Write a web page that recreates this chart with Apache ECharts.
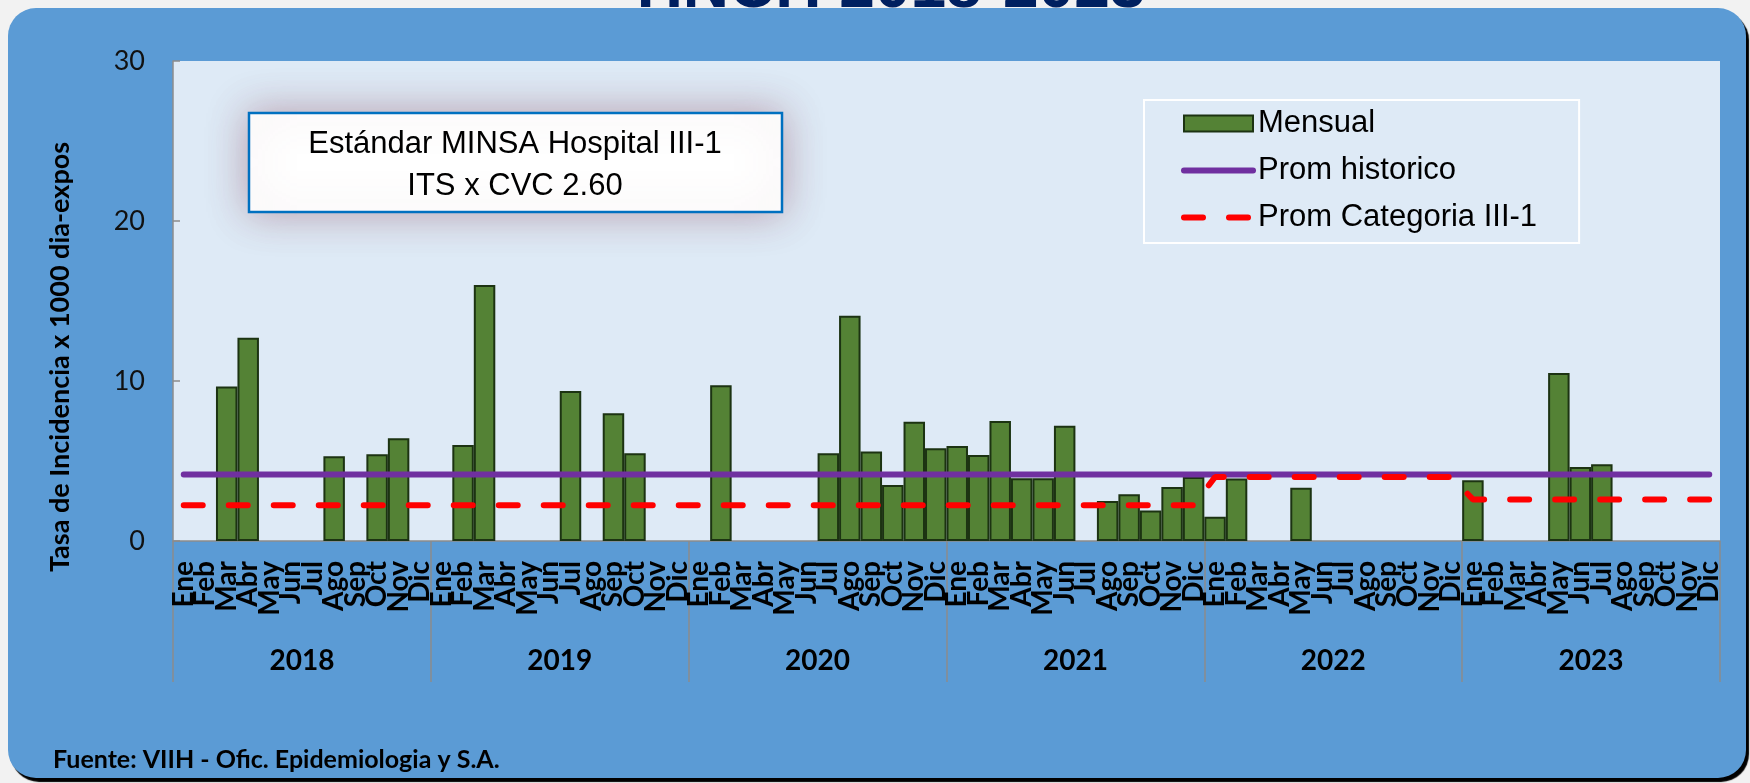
<!DOCTYPE html>
<html>
<head>
<meta charset="utf-8">
<script src="https://cdn.jsdelivr.net/npm/echarts@6/dist/echarts.min.js"></script>
<style>
  html, body { margin: 0; padding: 0; background: #f2f2f2; }
  #chart { width: 1750px; height: 783px; }
</style>
</head>
<body>
<div id="chart"></div>
<script>
  var years = ['2018', '2019', '2020', '2021', '2022', '2023'];
  var months = ['Ene', 'Feb', 'Mar', 'Abr', 'May', 'Jun', 'Jul', 'Ago', 'Sep', 'Oct', 'Nov', 'Dic'];

  // tasa mensual por año (null = sin casos)
  var mensual = [
    null, null, 9.65, 12.7, null, null, null, 5.3, null, 5.42, 6.42, null,      // 2018
    null, 6.0, 16.0, null, null, null, 9.37, null, 7.98, 5.48, null, null,      // 2019
    null, 9.73, null, null, null, null, 5.48, 14.08, 5.6, 3.5, 7.45, 5.8,       // 2020
    5.93, 5.38, 7.5, 3.92, 3.92, 7.2, null, 2.5, 2.92, 1.9, 3.38, 4.0,          // 2021
    1.52, 3.9, null, null, 3.33, null, null, null, null, null, null, null,      // 2022
    3.8, null, null, null, 10.5, 4.62, 4.8, null, null, null, null, null        // 2023
  ];

  var promHistorico = [
    4.15, 4.15, 4.15, 4.15, 4.15, 4.15, 4.15, 4.15, 4.15, 4.15, 4.15, 4.15,
    4.15, 4.15, 4.15, 4.15, 4.15, 4.15, 4.15, 4.15, 4.15, 4.15, 4.15, 4.15,
    4.15, 4.15, 4.15, 4.15, 4.15, 4.15, 4.15, 4.15, 4.15, 4.15, 4.15, 4.15,
    4.15, 4.15, 4.15, 4.15, 4.15, 4.15, 4.15, 4.15, 4.15, 4.15, 4.15, 4.15,
    4.15, 4.15, 4.15, 4.15, 4.15, 4.15, 4.15, 4.15, 4.15, 4.15, 4.15, 4.15,
    4.15, 4.15, 4.15, 4.15, 4.15, 4.15, 4.15, 4.15, 4.15, 4.15, 4.15, 4.15
  ];

  var promCategoria = [
    2.23, 2.23, 2.23, 2.23, 2.23, 2.23, 2.23, 2.23, 2.23, 2.23, 2.23, 2.23,
    2.23, 2.23, 2.23, 2.23, 2.23, 2.23, 2.23, 2.23, 2.23, 2.23, 2.23, 2.23,
    2.23, 2.23, 2.23, 2.23, 2.23, 2.23, 2.23, 2.23, 2.23, 2.23, 2.23, 2.23,
    2.23, 2.23, 2.23, 2.23, 2.23, 2.23, 2.23, 2.23, 2.23, 2.23, 2.23, 2.23,
    4.0, 4.0, 4.0, 4.0, 4.0, 4.0, 4.0, 4.0, 4.0, 4.0, 4.0, 4.0,
    2.6, 2.6, 2.6, 2.6, 2.6, 2.6, 2.6, 2.6, 2.6, 2.6, 2.6, 2.6
  ];

  var monthLabels = [];
  years.forEach(function () { monthLabels = monthLabels.concat(months); });

  var axisGrey = '#8c8c8c';
  var noSymbol = { color: 'transparent', borderWidth: 0 };

  var chart = echarts.init(document.getElementById('chart'));
  chart.setOption({
    backgroundColor: '#f2f2f2',
    animation: false,
    graphic: [
      {
        type: 'text', z: -20,
        style: {
          text: 'HNCH 2018-2023', x: 891, y: 21, textAlign: 'center', textVerticalAlign: 'bottom',
          font: 'bold 64px "Liberation Sans"', fill: '#002060'
        }
      },
      {
        type: 'rect', z: -10,
        shape: { x: 8, y: 8, width: 1738, height: 770, r: 28 },
        style: { fill: '#5B9BD5', shadowColor: '#000', shadowOffsetX: 3, shadowOffsetY: 4, shadowBlur: 1 }
      },
      {
        type: 'rect', z: 50,
        shape: { x: 249, y: 113, width: 533, height: 99 },
        style: { fill: '#fff', stroke: '#0070C0', lineWidth: 2.5, shadowBlur: 40, shadowColor: 'rgba(140,70,90,0.45)' }
      },
      {
        type: 'text', z: 51,
        style: {
          text: 'Estándar MINSA Hospital III-1\nITS x CVC 2.60', x: 515, y: 165, textAlign: 'center', textVerticalAlign: 'middle',
          font: '31px "Liberation Sans"', lineHeight: 42, fill: '#000'
        }
      },
      {
        type: 'text', z: 5,
        style: {
          text: 'Fuente: VIIH - Ofic. Epidemiologia y S.A.', x: 53, y: 760, textVerticalAlign: 'middle',
          font: 'bold 25px Lato', fill: '#000'
        }
      }
    ],
    grid: { left: 173, right: 30, top: 61, bottom: 242, show: true, backgroundColor: '#DEEAF6', borderWidth: 0 },
    legend: {
      orient: 'vertical',
      left: 1144, top: 100,
      padding: [8, 42, 10, 37],
      itemWidth: 69, itemHeight: 16, itemGap: 16,
      borderColor: '#fff', borderWidth: 2,
      textStyle: { fontSize: 31, fontFamily: 'Liberation Sans', color: '#000', lineHeight: 31 },
      data: [
        { name: 'Mensual', icon: 'rect' },
        { name: 'Prom historico', itemStyle: noSymbol, lineStyle: { width: 6, cap: 'round' } },
        { name: 'Prom Categoria III-1', itemStyle: noSymbol, lineStyle: { width: 6, cap: 'round', type: [19, 26] } }
      ]
    },
    xAxis: [
      {
        type: 'category', data: monthLabels,
        axisLine: { lineStyle: { color: axisGrey, width: 1.5 } },
        axisTick: { show: false },
        axisLabel: { interval: 0, rotate: 90, margin: 20, fontSize: 28, fontWeight: 'bold', fontFamily: 'Lato', color: '#000' }
      },
      {
        type: 'category', data: years, position: 'bottom',
        axisLine: { show: false },
        axisTick: { show: true, length: 141, lineStyle: { color: axisGrey, width: 1.5 } },
        axisLabel: { margin: 106, fontSize: 28, fontWeight: 'bold', fontFamily: 'Lato', color: '#000' }
      }
    ],
    yAxis: {
      type: 'value', min: 0, max: 30, interval: 10,
      name: 'Tasa de Incidencia x 1000 dia-expos', nameLocation: 'middle', nameGap: 99,
      nameTextStyle: { fontSize: 27, fontWeight: 'bold', fontFamily: 'Lato', color: '#000', padding: [0, 112, 0, 0] },
      splitLine: { show: false },
      axisLine: { show: true, lineStyle: { color: axisGrey, width: 1.5 } },
      axisTick: { show: true, inside: true, length: 7, lineStyle: { color: axisGrey, width: 1.5 } },
      axisLabel: { margin: 28, fontSize: 27, fontFamily: 'Lato', color: '#111' }
    },
    series: [
      {
        name: 'Mensual', type: 'bar', data: mensual, barCategoryGap: '0%', z: 2,
        itemStyle: { color: '#548235', borderColor: '#1c3312', borderWidth: 2 }
      },
      {
        name: 'Prom historico', type: 'line', data: promHistorico, symbol: 'none', z: 3,
        itemStyle: { color: '#7030A0' },
        lineStyle: { color: '#7030A0', width: 6, cap: 'round' }
      },
      {
        name: 'Prom Categoria III-1', type: 'line', data: promCategoria, symbol: 'none', z: 4,
        itemStyle: { color: '#FF0000' },
        lineStyle: { color: '#FF0000', width: 6, type: [19, 26], cap: 'round' }
      }
    ]
  });
</script>
</body>
</html>
